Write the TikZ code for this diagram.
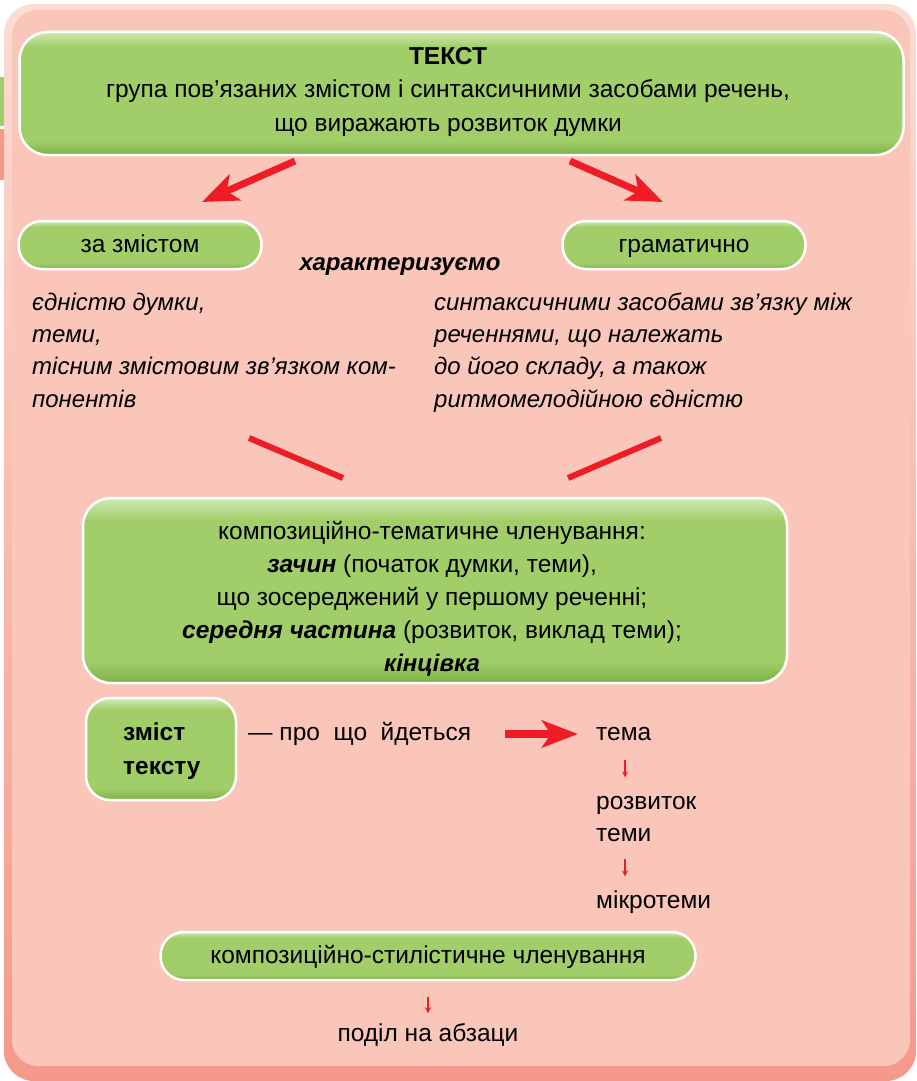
\documentclass[tikz,border=0pt]{standalone}
\usepackage{fontspec}
\setmainfont{Liberation Sans}
\usetikzlibrary{arrows.meta}
\definecolor{pinkbg}{HTML}{FAC6B9}
\definecolor{pinkedge}{HTML}{F4998A}
\definecolor{pinklight}{HTML}{FCDCD3}
\definecolor{gmain}{HTML}{A2CE69}
\definecolor{gdark}{HTML}{7BB246}
\definecolor{glight}{HTML}{D2E9B8}
\definecolor{redarr}{HTML}{EE1D25}
\pgfdeclareverticalshading{greensh}{100bp}{color(0bp)=(gdark); color(25bp)=(gdark); color(31bp)=(gmain); color(69bp)=(gmain); color(75bp)=(glight); color(100bp)=(glight)}
\newcommand{\fsR}{\fontsize{24.5}{29}\selectfont}
\newcommand{\fsI}{\fontsize{24}{29}\selectfont\itshape}
\begin{document}
\begin{tikzpicture}[x=1pt,y=-1pt,
  gbox/.style={shading=greensh, draw=white, line width=2.5pt, rounded corners=28pt, inner sep=0pt},
  pill/.style={shading=greensh, draw=white, line width=2.5pt, rounded corners=23.5pt, minimum height=48pt, inner sep=0pt, text height=17.5pt, text depth=3.5pt, font=\fsR},
  txt/.style={font=\fsR, inner sep=0pt, anchor=base},
  ltxt/.style={font=\fsI, inner sep=0pt, anchor=base west},
  btxt/.style={font=\fsR\bfseries, inner sep=0pt, anchor=base west},
  plain/.style={font=\fsR, inner sep=0pt, anchor=base west},
  bigarr/.style={draw=redarr, line width=7pt, -{Stealth[length=36pt,width=28pt,inset=9pt]}},
  redline/.style={draw=redarr, line width=6pt},
  smallarr/.style={draw=redarr, line width=1.2pt, -{Stealth[length=6pt,width=6pt]}}
]
\useasboundingbox (0,0) rectangle (916,1081);
% frame
\path[top color=pinklight, bottom color=pinkedge, rounded corners=30pt] (4,4) rectangle (916,1081);
\fill[pinkbg, rounded corners=26pt] (12,10) rectangle (910,1066);
\fill[gmain] (0,77) rectangle (4,126);
\fill[pinkedge] (0,129) rectangle (4,180);

% top box
\node[gbox, minimum width=884pt, minimum height=123pt] (top) at (461.5,93.5) {};
\node[txt, font=\fsR\bfseries] (t1) at (448,64) {ТЕКСТ};
\node[txt] (t2) at (448,97) {група пов’язаних змістом і синтаксичними засобами речень,};
\node[txt] (t3) at (448,131) {що виражають розвиток думки};

% pills
\node[pill, minimum width=243pt] (zm) at (140,245) {за змістом};
\node[pill, minimum width=243pt] (gr) at (684,245) {граматично};
\coordinate (a1s) at (295,161);
\coordinate (a1e) at (202,202);
\coordinate (a2s) at (570,161);
\coordinate (a2e) at (663,202);
\draw[bigarr] (a1s) -- (a1e);
\draw[bigarr] (a2s) -- (a2e);

\node[txt, font=\fsI\bfseries] (har) at (400,270) {характеризуємо};

\node[ltxt] (l1) at (32,310) {єдністю думки,};
\node[ltxt] (l2) at (32,342) {теми,};
\node[ltxt] (l3) at (32,374) {тісним змістовим зв’язком ком-};
\node[ltxt] (l4) at (32,407) {понентів};

\node[ltxt] (r1) at (434,310) {синтаксичними засобами зв’язку між};
\node[ltxt] (r2) at (434,342) {реченнями, що належать};
\node[ltxt] (r3) at (434,374) {до його складу, а також};
\node[ltxt] (r4) at (434,407) {ритмомелодійною єдністю};

\coordinate (b1s) at (249,438);
\coordinate (b1e) at (343,478);
\coordinate (b2s) at (568,478);
\coordinate (b2e) at (661,438);
\draw[redline] (b1s) -- (b1e);
\draw[redline] (b2s) -- (b2e);

% middle box
\node[gbox, minimum width=704pt, minimum height=185pt] (mid) at (435,590.5) {};
\node[txt] (m1) at (432,539) {композиційно-тематичне членування:};
\node[txt] (m2) at (432,572) {\textbf{\textit{зачин}} (початок думки, теми),};
\node[txt] (m3) at (432,605) {що зосереджений у першому реченні;};
\node[txt] (m4) at (432,638) {\textbf{\textit{середня частина}} (розвиток, виклад теми);};
\node[txt, font=\fsI\bfseries] (m5) at (432,671) {кінцівка};

% zmist tekstu
\node[gbox, rounded corners=24pt, minimum width=150pt, minimum height=102pt] (zt) at (161,749) {};
\node[btxt] (zt1) at (123,740) {зміст};
\node[btxt] (zt2) at (123,774) {тексту};
\node[plain] (pro) at (248,740) {— про\ \ що\ \ йдеться};
\coordinate (c1s) at (505,734);
\coordinate (c1e) at (578,734);
\draw[bigarr, line width=7.5pt, -{Stealth[length=36pt,width=27pt,inset=9pt]}] (c1s) -- (c1e);
\node[plain] (tema) at (596,740) {тема};
\node[plain] (rozv) at (596,809) {розвиток};
\node[plain] (temy) at (596,841) {теми};
\node[plain] (mikro) at (596,908) {мікротеми};
\draw[smallarr] (tema.south -| 625,0) ++(0,20) coordinate (s1s) -- ++(0,17) coordinate (s1e);
\draw[smallarr] (temy.south -| 625,0) ++(0,18) coordinate (s2s) -- ++(0,17) coordinate (s2e);

% bottom
\node[pill, minimum width=535pt] (ks) at (428,956) {композиційно-стилістичне членування};
\node[txt] (pod) at (428,1041) {поділ на абзаци};
\draw[smallarr] (ks.south) ++(0,16) coordinate (s3s) -- ++(0,16) coordinate (s3e);
\end{tikzpicture}
\end{document}
